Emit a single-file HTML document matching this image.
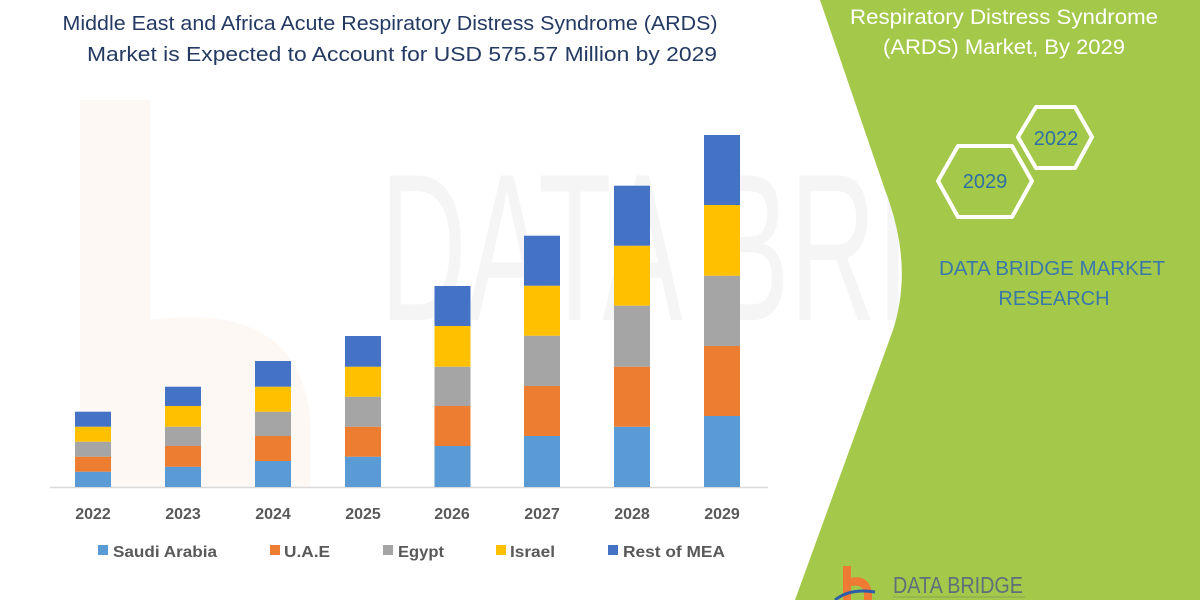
<!DOCTYPE html>
<html><head><meta charset="utf-8"><style>
html,body{margin:0;padding:0;background:#fff;}
svg{display:block;font-family:"Liberation Sans",sans-serif;}
</style></head><body>
<svg width="1200" height="600" viewBox="0 0 1200 600" xmlns="http://www.w3.org/2000/svg">
<rect width="1200" height="600" fill="#fff"/>
<!-- faint watermark -->
<path d="M80 100 L150 100 L150 320 Q300 300 310 420 L310 487 L80 487 Z" fill="#fdf3ee" opacity="0.6"/>
<text x="380" y="320" font-size="210" fill="#f5f5f5" textLength="790" lengthAdjust="spacingAndGlyphs">DATA BRIDGE</text>
<!-- green panel -->
<path d="M820 0 L1200 0 L1200 600 L795 600 L893 330 Q914 265 885 190 Z" fill="#a4c94a"/>
<!-- title -->
<g fill="#243a63" font-size="20" text-anchor="middle">
<text x="390" y="30" textLength="655" lengthAdjust="spacingAndGlyphs">Middle East and Africa Acute Respiratory Distress Syndrome (ARDS)</text>
<text x="402" y="61" textLength="630" lengthAdjust="spacingAndGlyphs">Market is Expected to Account for USD 575.57 Million by 2029</text>
</g>
<!-- right texts -->
<g fill="#fff" font-size="21" text-anchor="middle">
<text x="1004" y="24" textLength="308" lengthAdjust="spacingAndGlyphs">Respiratory Distress Syndrome</text>
<text x="1004" y="54" textLength="242" lengthAdjust="spacingAndGlyphs">(ARDS) Market, By 2029</text>
</g>
<!-- hexagons -->
<polygon points="1036,107 1075,107 1092,137 1075,168 1036,168 1018,137" fill="none" stroke="#fff" stroke-width="4" stroke-linejoin="round"/>
<polygon points="958,146 1012,146 1032,181 1012,217 958,217 938,181" fill="none" stroke="#fff" stroke-width="4" stroke-linejoin="round"/>
<g fill="#2e6fa4" font-size="20" text-anchor="middle">
<text x="1056" y="145">2022</text>
<text x="985" y="188">2029</text>
</g>
<g fill="#3a78a8" font-size="20" text-anchor="middle">
<text x="1052" y="275" textLength="226" lengthAdjust="spacingAndGlyphs">DATA BRIDGE MARKET</text>
<text x="1054" y="305">RESEARCH</text>
</g>
<!-- logo -->
<path d="M843 566 L851 566 L851 578 Q868 574 872 592 L872 600 L864 600 L864 592 Q862 584 851 586 L851 600 L843 600 Z" fill="#ee7a33"/>
<path d="M835 600 Q850 588 875 592" stroke="#2f5da8" stroke-width="3" fill="none"/>
<text x="893" y="593" font-size="23" fill="#5f6f7a" textLength="130" lengthAdjust="spacingAndGlyphs">DATA BRIDGE</text>
<line x1="893" y1="597" x2="1025" y2="597" stroke="#8aa35a" stroke-width="1"/>
<!-- axis -->
<line x1="50" y1="487.5" x2="768" y2="487.5" stroke="#d9d9d9" stroke-width="1.5"/>
<!-- bars -->
<g>
<rect x="75" y="471.7" width="36" height="15.3" fill="#5b9bd5"/>
<rect x="75" y="456.7" width="36" height="15" fill="#ed7d31"/>
<rect x="75" y="441.7" width="36" height="15" fill="#a5a5a5"/>
<rect x="75" y="426.7" width="36" height="15" fill="#ffc000"/>
<rect x="75" y="411.7" width="36" height="15" fill="#4472c4"/>
<rect x="165" y="466.7" width="36" height="20.3" fill="#5b9bd5"/>
<rect x="165" y="446" width="36" height="20.7" fill="#ed7d31"/>
<rect x="165" y="426.7" width="36" height="19.3" fill="#a5a5a5"/>
<rect x="165" y="406" width="36" height="20.7" fill="#ffc000"/>
<rect x="165" y="386.7" width="36" height="19.3" fill="#4472c4"/>
<rect x="255" y="461" width="36" height="26" fill="#5b9bd5"/>
<rect x="255" y="436" width="36" height="25" fill="#ed7d31"/>
<rect x="255" y="411.7" width="36" height="24.3" fill="#a5a5a5"/>
<rect x="255" y="386.7" width="36" height="25" fill="#ffc000"/>
<rect x="255" y="361" width="36" height="25.7" fill="#4472c4"/>
<rect x="345" y="456.7" width="36" height="30.3" fill="#5b9bd5"/>
<rect x="345" y="426.7" width="36" height="30" fill="#ed7d31"/>
<rect x="345" y="396.7" width="36" height="30" fill="#a5a5a5"/>
<rect x="345" y="366.7" width="36" height="30" fill="#ffc000"/>
<rect x="345" y="336" width="36" height="30.7" fill="#4472c4"/>
<rect x="434.5" y="446" width="36" height="41" fill="#5b9bd5"/>
<rect x="434.5" y="406" width="36" height="40" fill="#ed7d31"/>
<rect x="434.5" y="366.7" width="36" height="39.3" fill="#a5a5a5"/>
<rect x="434.5" y="326" width="36" height="40.7" fill="#ffc000"/>
<rect x="434.5" y="286" width="36" height="40" fill="#4472c4"/>
<rect x="524" y="436" width="36" height="51" fill="#5b9bd5"/>
<rect x="524" y="386" width="36" height="50" fill="#ed7d31"/>
<rect x="524" y="335.7" width="36" height="50.3" fill="#a5a5a5"/>
<rect x="524" y="285.7" width="36" height="50" fill="#ffc000"/>
<rect x="524" y="235.7" width="36" height="50" fill="#4472c4"/>
<rect x="614" y="426.7" width="36" height="60.3" fill="#5b9bd5"/>
<rect x="614" y="366.7" width="36" height="60" fill="#ed7d31"/>
<rect x="614" y="305.7" width="36" height="61" fill="#a5a5a5"/>
<rect x="614" y="245.7" width="36" height="60" fill="#ffc000"/>
<rect x="614" y="185.7" width="36" height="60" fill="#4472c4"/>
<rect x="704" y="416" width="36" height="71" fill="#5b9bd5"/>
<rect x="704" y="346" width="36" height="70" fill="#ed7d31"/>
<rect x="704" y="275.7" width="36" height="70.3" fill="#a5a5a5"/>
<rect x="704" y="205" width="36" height="70.7" fill="#ffc000"/>
<rect x="704" y="135" width="36" height="70" fill="#4472c4"/>
</g>
<g fill="#595959" font-size="16" font-weight="bold" text-anchor="middle">
<text x="93" y="519">2022</text>
<text x="183" y="519">2023</text>
<text x="273" y="519">2024</text>
<text x="363" y="519">2025</text>
<text x="452" y="519">2026</text>
<text x="542" y="519">2027</text>
<text x="632" y="519">2028</text>
<text x="722" y="519">2029</text>
</g>
<g font-size="16" font-weight="bold" fill="#595959">
<rect x="98" y="545" width="10" height="10" fill="#5b9bd5"/>
<text x="113" y="557" textLength="104" lengthAdjust="spacingAndGlyphs">Saudi Arabia</text>
<rect x="270" y="545" width="10" height="10" fill="#ed7d31"/>
<text x="284" y="557" textLength="46" lengthAdjust="spacingAndGlyphs">U.A.E</text>
<rect x="383" y="545" width="10" height="10" fill="#a5a5a5"/>
<text x="398" y="557" textLength="46" lengthAdjust="spacingAndGlyphs">Egypt</text>
<rect x="496" y="545" width="10" height="10" fill="#ffc000"/>
<text x="510" y="557" textLength="45" lengthAdjust="spacingAndGlyphs">Israel</text>
<rect x="608" y="545" width="10" height="10" fill="#4472c4"/>
<text x="623" y="557" textLength="102" lengthAdjust="spacingAndGlyphs">Rest of MEA</text>
</g>
</svg>
</body></html>
